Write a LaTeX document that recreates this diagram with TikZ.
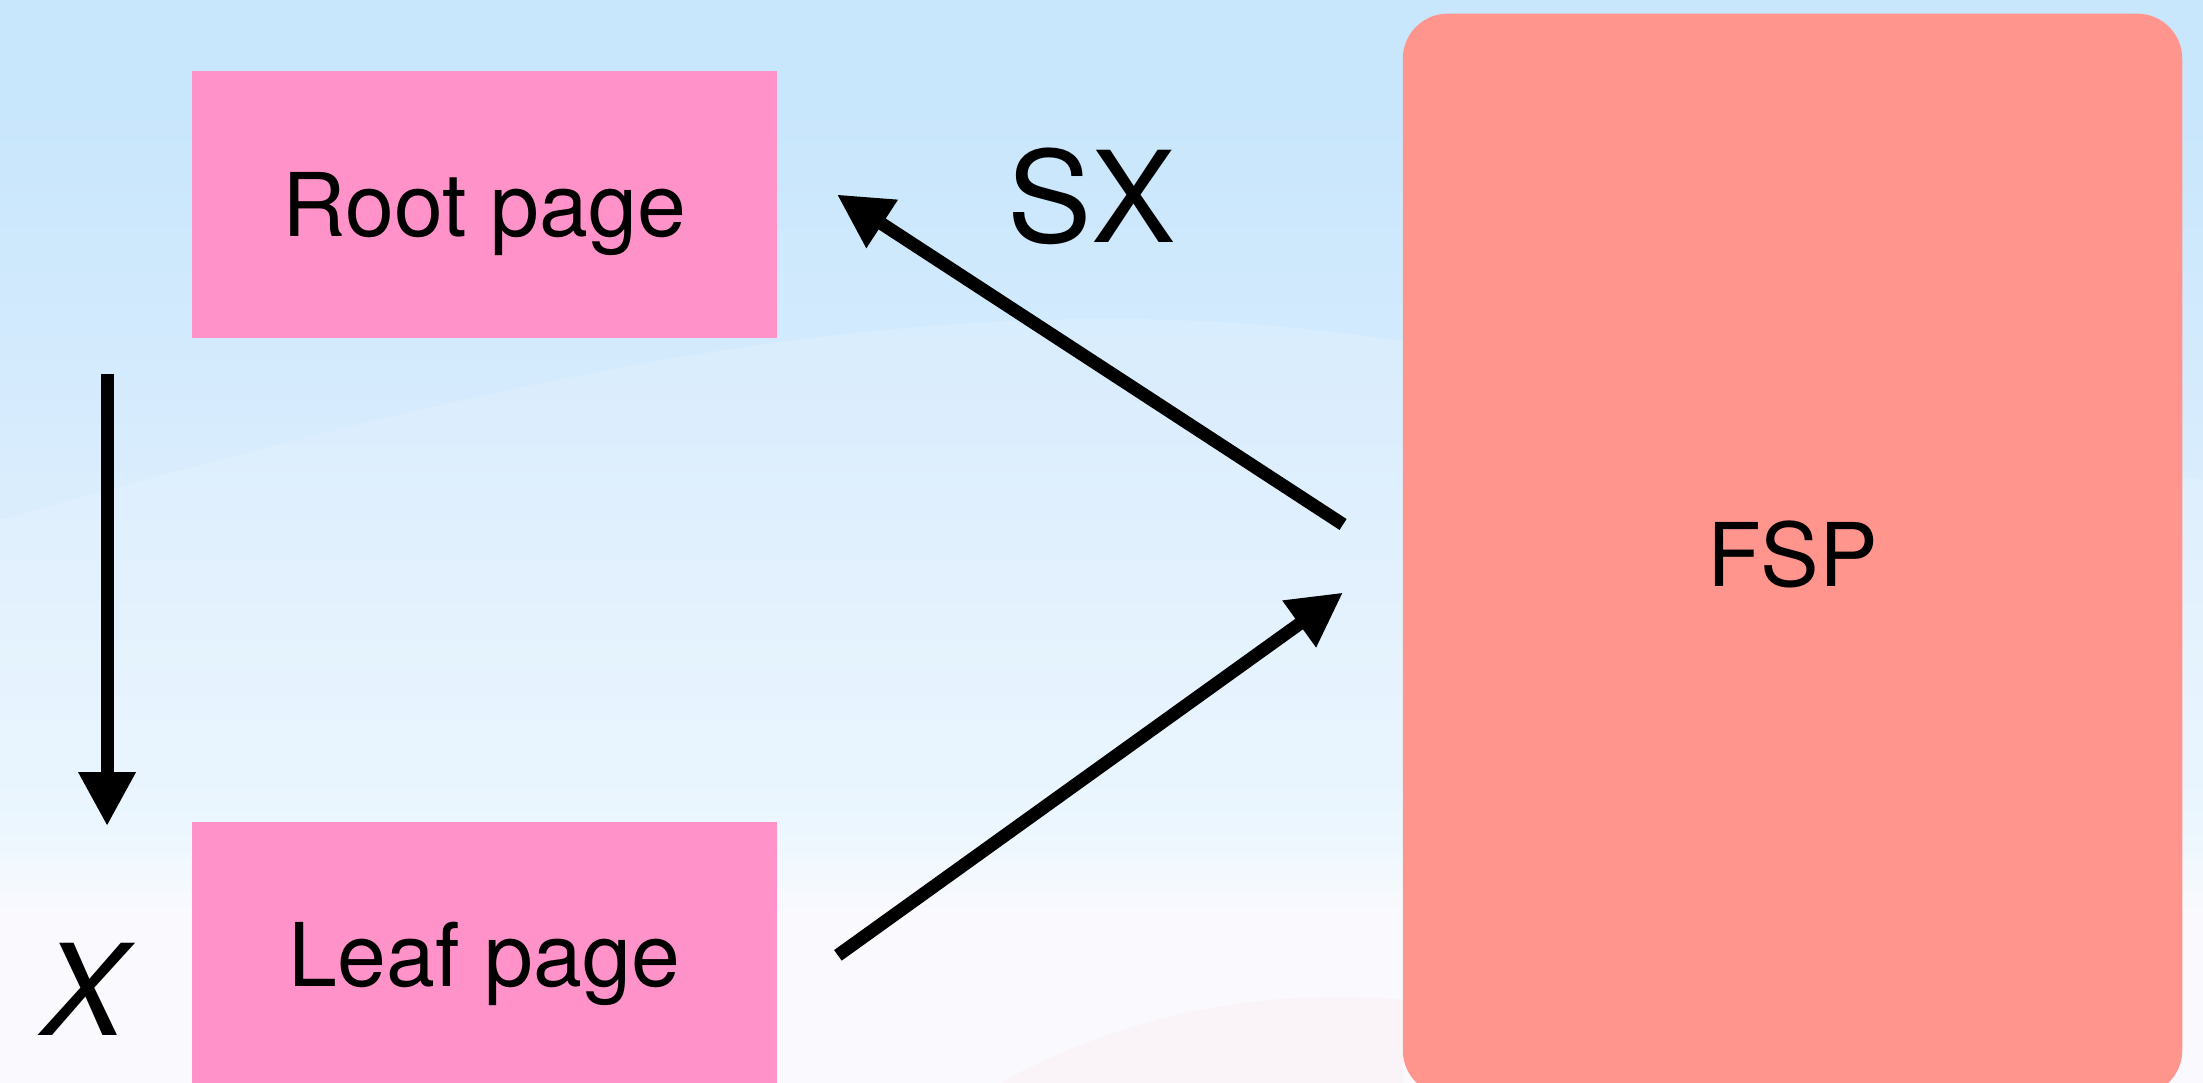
\documentclass[tikz,border=0pt]{standalone}
\usepackage{fontspec}
\setmainfont{TeX Gyre Heros}
\usepackage{xcolor}
\usepackage{tikz}
\usetikzlibrary{arrows.meta,positioning}

\definecolor{pagepink}{HTML}{FF93C9}
\definecolor{fspred}{HTML}{FF958C}
\definecolor{skyblue}{HTML}{C8E6FC}
\definecolor{skymid}{HTML}{DAEDFD}
\definecolor{skylight}{HTML}{E8F5FE}
\definecolor{skywhite}{HTML}{F8F9FE}

\pgfdeclareverticalshading{skyfade}{100bp}{color(0bp)=(skywhite); color(33bp)=(skywhite); color(37bp)=(skylight); color(52bp)=(skymid); color(70bp)=(skyblue); color(100bp)=(skyblue)}

\tikzstyle{arrow} = [-{Triangle[length=0.54cm,width=0.54cm]}, line width=0.13cm]
\tikzstyle{pagebox} = [rectangle, fill=pagepink, minimum width=5.85cm, minimum height=2.67cm, text height=18pt, text depth=0pt, font=\fontsize{25}{30}\selectfont]
\tikzstyle{fspbox} = [rectangle, rounded corners=0.45cm, fill=fspred, minimum width=7.79cm, minimum height=10.81cm, text height=18pt, text depth=0pt, font=\fontsize{25}{30}\selectfont]
\tikzstyle{label} = [text height=26pt, text depth=0pt, font=\fontsize{36}{43}\selectfont]

\begin{document}
\begin{tikzpicture}[x=0.01cm, y=-0.01cm]
		% backdrop
		\clip (0,0) rectangle (2203,1083);
		\shade[shading=skyfade] (0,0) rectangle (2203,1083);
		\fill[white, opacity=0.15] (0,1083) -- (0,520) .. controls (500,380) and (1000,250) .. (1500,360) -- (2203,480) -- (2203,1083) -- cycle;
		\fill[pink!40!white, opacity=0.25] (1000,1083) .. controls (1150,1000) and (1300,990) .. (1403,1000) -- (1403,1083) -- cycle;

		\node (rootpage) [pagebox] at (484.5,204.5) {Root page};
		\node (leafpage) [pagebox, below=4.82cm of rootpage] {Leaf page};
		\node (fsp) [fspbox] at (1792.5,554.5) {FSP};
		\node (sx) [label] at (1091.5,197) {SX};
		\node (x) [label, font=\fontsize{36}{43}\selectfont\itshape] at (84,990) {X};

		\coordinate (descend) at ([xshift=-0.84cm, yshift=-0.35cm]rootpage.south west);
		\coordinate (arrive) at ([xshift=-0.84cm, yshift=-0.05cm]leafpage.north west);

		\draw [arrow] (descend) -- (arrive);
		\draw [arrow] ([xshift=-0.59cm, yshift=0.30cm]fsp.west) -- ([xshift=0.59cm, yshift=0.10cm]rootpage.east);
		\draw [arrow] ([xshift=0.60cm]leafpage.east) -- ([xshift=-0.59cm, yshift=-0.38cm]fsp.west);
	\end{tikzpicture}
\end{document}
